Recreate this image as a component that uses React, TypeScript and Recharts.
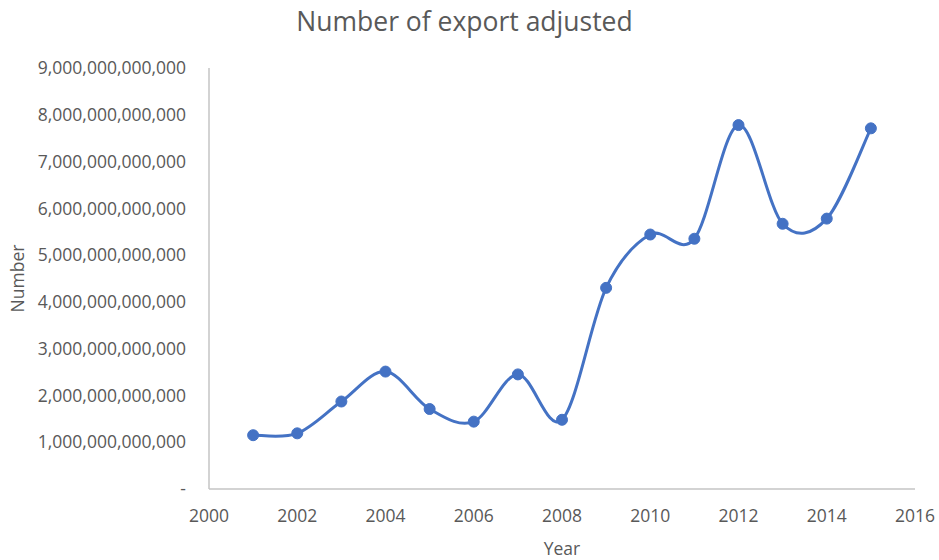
import { LineChart, Line, XAxis, YAxis, Label } from "recharts";

const years = [2001, 2002, 2003, 2004, 2005, 2006, 2007, 2008, 2009, 2010, 2011, 2012, 2013, 2014, 2015];
const exportValues = [
  1.15e12, 1.19e12, 1.87e12, 2.51e12, 1.71e12, 1.44e12, 2.45e12, 1.48e12,
  4.3e12, 5.44e12, 5.35e12, 7.78e12, 5.67e12, 5.78e12, 7.71e12,
];
const yearTicks = [2000, 2002, 2004, 2006, 2008, 2010, 2012, 2014, 2016];
const numberTicks = [0, 1e12, 2e12, 3e12, 4e12, 5e12, 6e12, 7e12, 8e12, 9e12];

const data = years.map((year, i) => ({ year, value: exportValues[i] }));

const FONT = "'Open Sans', sans-serif";
const GREY = "#595959";

// smooth line like the spreadsheet one (catmull-rom as cubic beziers)
const smoothCurve = (context: any) => {
  let pts: [number, number][] = [];
  return {
    areaStart() {},
    areaEnd() {},
    lineStart() {
      pts = [];
    },
    point(x: number, y: number) {
      pts.push([+x, +y]);
    },
    lineEnd() {
      if (!pts.length) return;
      context.moveTo(pts[0][0], pts[0][1]);
      for (let i = 0; i < pts.length - 1; i++) {
        const p0 = pts[i - 1] || pts[i];
        const p1 = pts[i];
        const p2 = pts[i + 1];
        const p3 = pts[i + 2] || p2;
        context.bezierCurveTo(
          p1[0] + (p2[0] - p0[0]) / 6,
          p1[1] + (p2[1] - p0[1]) / 6,
          p2[0] - (p3[0] - p1[0]) / 6,
          p2[1] - (p3[1] - p1[1]) / 6,
          p2[0],
          p2[1]
        );
      }
    },
  };
};

const fmtNumber = (v: number) => (v === 0 ? "-" : v.toLocaleString("en-US"));

export default function App() {
  return (
    <div style={{ position: "absolute", left: 0, top: 0, width: 939, height: 560, background: "#fff" }}>
      <div
        style={{
          position: "absolute",
          left: 0,
          top: 8,
          width: 929,
          textAlign: "center",
          fontFamily: FONT,
          fontSize: 26.5,
          lineHeight: "26.5px",
          color: GREY,
        }}
      >
        Number of export adjusted
      </div>
      <LineChart width={939} height={560} data={data} margin={{ top: 68, right: 24, bottom: 21, left: 0 }}>
        <XAxis
          dataKey="year"
          type="number"
          domain={[2000, 2016]}
          ticks={yearTicks}
          height={50}
          tickLine={false}
          tickMargin={15}
          axisLine={{ stroke: "#c4c4c4", strokeWidth: 1.5 }}
          tick={{ fill: GREY, fontFamily: FONT, fontSize: 17.5 }}
        >
          <Label value="Year" position="bottom" offset={4} fill={GREY} fontFamily={FONT} fontSize={17.5} />
        </XAxis>
        <YAxis
          type="number"
          domain={[0, 9e12]}
          ticks={numberTicks}
          width={209}
          tickLine={false}
          tickMargin={17}
          tickFormatter={fmtNumber}
          axisLine={{ stroke: "#c4c4c4", strokeWidth: 1.5 }}
          tick={{ fill: GREY, fontFamily: FONT, fontSize: 17.5 }}
        >
          <Label value="Number" angle={-90} position="center" dx={-87} fill={GREY} fontFamily={FONT} fontSize={17.5} />
        </YAxis>
        <Line
          dataKey="value"
          type={smoothCurve as any}
          stroke="#4472C4"
          strokeWidth={3}
          dot={{ r: 5.5, fill: "#4472C4", stroke: "#4472C4", strokeWidth: 1 }}
          isAnimationActive={false}
        />
      </LineChart>
    </div>
  );
}
